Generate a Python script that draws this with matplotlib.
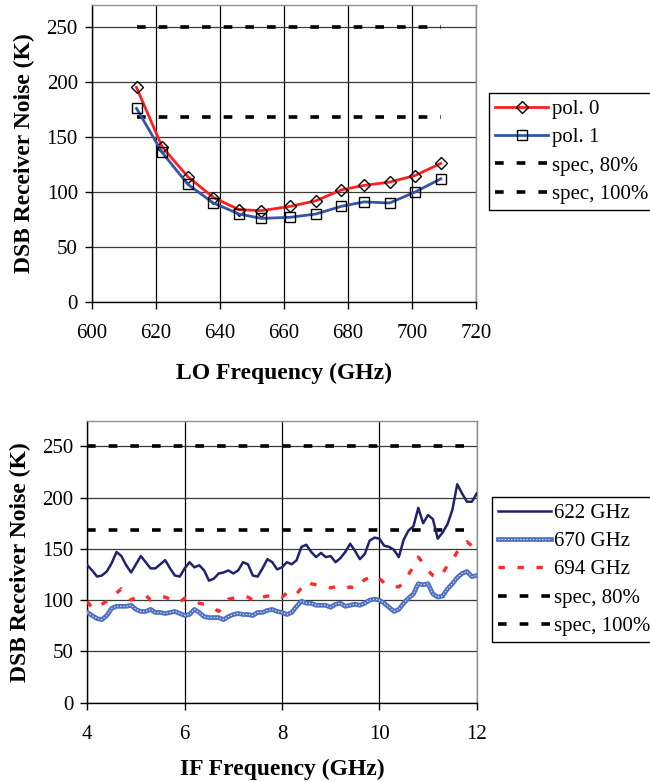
import numpy as np
import matplotlib
matplotlib.use("Agg")
import matplotlib.pyplot as plt
from matplotlib.legend_handler import HandlerTuple

plt.rcParams['font.family'] = ['Liberation Serif', 'DejaVu Serif']

# ---------- top chart data ----------
lo_ghz = [614, 622, 630, 638, 646, 653, 662, 670, 678, 685, 693, 701, 709]
pol0 = [195, 141, 114, 95, 84, 83, 87, 92, 102, 106, 109, 115, 126]
pol1 = [176, 136, 107, 90, 80, 76, 77, 80, 87, 91, 90, 100, 112]
spec80 = 168
spec100 = 250

# ---------- bottom chart data ----------
if_ghz = np.round(np.linspace(4, 12, 81), 1)
n622 = [134, 129, 123, 124, 128, 136, 147, 143, 134, 127,
        135, 143, 137, 131, 131, 135, 139, 131, 124, 123,
        131, 137, 132, 134, 129, 119, 121, 126, 127, 129,
        126, 129, 137, 135, 124, 123, 131, 140, 137, 130,
        132, 137, 135, 139, 152, 154, 147, 142, 146, 142,
        143, 137, 141, 147, 155, 148, 140, 145, 158, 161,
        160, 153, 152, 149, 142, 159, 168, 172, 190, 175,
        183, 179, 160, 166, 174, 188, 213, 204, 196, 196,
        204]
n670 = [88, 85, 82, 81, 85, 92, 94, 94, 94, 95,
        91, 89, 89, 91, 88, 88, 87, 88, 89, 87,
        85, 86, 91, 88, 84, 83, 83, 83, 81, 84,
        86, 87, 86, 86, 85, 88, 88, 90, 91, 89,
        88, 86, 88, 94, 99, 97, 97, 95, 95, 95,
        93, 96, 97, 94, 95, 96, 95, 97, 100, 101,
        100, 97, 93, 89, 91, 97, 102, 106, 116, 115,
        116, 106, 103, 104, 111, 116, 122, 126, 128, 123,
        124]
n694 = [99, 92, 93, 96, 99, 103, 107, 111, 106, 100,
        103, 104, 105, 100, 101, 103, 103, 101, 99, 98,
        102, 101, 99, 97, 96, 94, 92, 89, 95, 101,
        102, 103, 104, 103, 100, 99, 103, 104, 104, 105,
        103, 107, 109, 106, 112, 118, 116, 115, 114, 113,
        112, 113, 112, 111, 113, 111, 116, 120, 122, 124,
        121, 117, 114, 113, 113, 117, 125, 133, 142, 136,
        129, 124, 122, 126, 134, 139, 147, 152, 157, 153,
        150]

W, H = 650, 782
fig = plt.figure(figsize=(W / 100, H / 100), dpi=100)

def frac_axes(left, top, right, bottom):
    return fig.add_axes([left / W, 1 - bottom / H, (right - left) / W, (bottom - top) / H])

spec_ls = (0, (2.4, 3.6))
spec_lw = 2.6

def style_axes(ax):
    ax.set_axisbelow(True)
    ax.grid(True, axis='x', color='black', lw=0.9)
    ax.grid(True, axis='y', color='#3a3a3a', lw=0.9)
    for s in ('top', 'right'):
        ax.spines[s].set_color('#909090')
        ax.spines[s].set_linewidth(1.0)
    for s in ('left', 'bottom'):
        ax.spines[s].set_color('black')
        ax.spines[s].set_linewidth(1.0)
    ax.tick_params(direction='out', length=5, width=1, labelsize=15)
    ax.tick_params(axis='x', pad=11)
    ax.tick_params(axis='y', pad=5)

leg_kw = dict(loc='upper left', fontsize=15, frameon=True, fancybox=False,
              edgecolor='black', framealpha=1, handlelength=2.55, handletextpad=0.15,
              labelspacing=0.42, borderpad=0.3, borderaxespad=0)

# ---------- top chart ----------
ax1 = frac_axes(91.7, 5, 476, 302)
style_axes(ax1)
l0, = ax1.plot(lo_ghz, pol0, color='#ff1f1f', lw=2.0, marker='D', ms=6.5,
               mfc='none', mec='black', mew=1.0, label='pol. 0', zorder=3)
l1, = ax1.plot(lo_ghz, pol1, color='#3355aa', lw=2.0, marker='s', ms=7.5,
               mfc='none', mec='black', mew=1.0, label='pol. 1', zorder=3)
sx = [lo_ghz[0], lo_ghz[-1]]
s1, = ax1.plot(sx, [spec80, spec80], color='black', lw=spec_lw, ls=spec_ls, label='spec, 80%')
s2, = ax1.plot(sx, [spec100, spec100], color='black', lw=spec_lw, ls=spec_ls, label='spec, 100%')
ax1.set_xlim(600, 720)
ax1.set_ylim(0, 270)
ax1.set_xticks(range(600, 721, 20))
ax1.set_yticks(range(0, 251, 50))
ax1.set_xlabel('LO Frequency (GHz)', fontsize=17, fontweight='bold', labelpad=14)
ax1.set_ylabel('DSB Receiver Noise (K)', fontsize=17, fontweight='bold', labelpad=8)
fig.legend(handles=[l0, l1, s1, s2], bbox_to_anchor=(489 / W, 1 - 93 / H), **leg_kw)

# ---------- bottom chart ----------
ax2 = frac_axes(87.3, 420.7, 476.7, 702.7)
style_axes(ax2)
b1, = ax2.plot(if_ghz, n622, color='#22226e', lw=1.8, label='622 GHz', zorder=3)
b2a, = ax2.plot(if_ghz, n670, color='#4f70c0', lw=3.4, zorder=3)
b2b, = ax2.plot(if_ghz, n670, color='#dfe6f5', lw=0.8, ls=(0, (1.2, 1.6)), zorder=3)
b3, = ax2.plot(if_ghz, n694, color='#ff2a2a', lw=2.4, ls=(0, (1.9, 3.8)), label='694 GHz', zorder=3)
sx2 = [if_ghz[0], if_ghz[-1]]
t1, = ax2.plot(sx2, [spec80, spec80], color='black', lw=spec_lw, ls=spec_ls, label='spec, 80%')
t2, = ax2.plot(sx2, [spec100, spec100], color='black', lw=spec_lw, ls=spec_ls, label='spec, 100%')
ax2.set_xlim(4, 12)
ax2.set_ylim(0, 275)
ax2.set_xticks(range(4, 13, 2))
ax2.set_yticks(range(0, 251, 50))
ax2.set_xlabel('IF Frequency (GHz)', fontsize=17, fontweight='bold', labelpad=11)
ax2.set_ylabel('DSB Receiver Noise (K)', fontsize=17, fontweight='bold', labelpad=8)
fig.legend(handles=[b1, (b2a, b2b), b3, t1, t2],
           labels=['622 GHz', '670 GHz', '694 GHz', 'spec, 80%', 'spec, 100%'],
           handler_map={tuple: HandlerTuple(ndivide=1)},
           bbox_to_anchor=(492 / W, 1 - 497 / H), **leg_kw)

fig.savefig('out.png', dpi=100)
